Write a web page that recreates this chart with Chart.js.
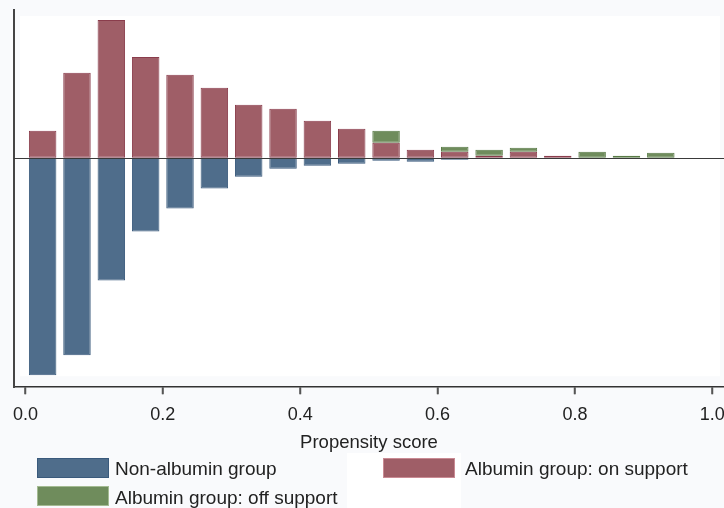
<!DOCTYPE html>
<html>
<head>
<meta charset="utf-8">
<script src="https://cdn.jsdelivr.net/npm/chart.js@4/dist/chart.umd.min.js"></script>
<style>
  html, body { margin: 0; padding: 0; background: #f9fafc; }
  #wrap { position: relative; width: 724px; height: 508px; overflow: hidden; font-family: "Liberation Sans", Arial, sans-serif; }
  #myChart { position: absolute; left: 0; top: 0; }
  .patch { position: absolute; left: 347px; top: 453px; width: 114px; height: 55px; background: #fff; }
  .item { position: absolute; font-size: 19px; color: #222; white-space: nowrap; line-height: 20px; }
  .box { position: absolute; width: 70px; height: 18px; border: 1px solid; }
</style>
</head>
<body>
<div id="wrap">
  <canvas id="myChart" width="724" height="508"></canvas>
  <div class="patch"></div>
  <div class="box" style="left:37px;top:458px;background:#4f6d8b;border-color:#3a5a7c"></div>
  <div class="item" style="left:115px;top:459px">Non-albumin group</div>
  <div class="box" style="left:383px;top:458px;background:#9f5e67;border-color:#c98a93"></div>
  <div class="item" style="left:465px;top:459px">Albumin group: on support</div>
  <div class="box" style="left:37px;top:486px;background:#6f8c5c;border-color:#a4bb92"></div>
  <div class="item" style="left:115px;top:488px">Albumin group: off support</div>
</div>
<script>
// propensity score bins (centres, width 0.05)
const binCentres = [0.025, 0.075, 0.125, 0.175, 0.225, 0.275, 0.325, 0.375, 0.425, 0.475,
                    0.525, 0.575, 0.625, 0.675, 0.725, 0.775, 0.825, 0.875, 0.925];
// densities (arbitrary units), non-albumin drawn downwards
const nonAlbumin = [-21.8, -19.8, -12.3, -7.4, -5.1, -3.1, -1.9, -1.1, -0.8, -0.6,
                    -0.3, -0.4, -0.2, 0, 0, 0, 0, 0, 0];
const onSupport  = [2.7, 8.5, 13.8, 10.1, 8.3, 7.0, 5.3, 4.9, 3.7, 2.9,
                    1.5, 0.8, 0.6, 0.2, 0.6, 0.2, 0, 0, 0];
const offSupport = [0, 0, 0, 0, 0, 0, 0, 0, 0, 0,
                    1.2, 0, 0.5, 0.6, 0.4, 0, 0.6, 0.2, 0.5];
const xTicks = [0, 0.2, 0.4, 0.6, 0.8, 1.0];

function toPoints(vals) {
    return binCentres.map((x, i) => ({x: x, y: vals[i]}));
}

// white plot panel, zero line, x tick marks
const panelPlugin = {
    id: 'panel',
    beforeDraw(chart) {
        const {ctx, chartArea: a} = chart;
        ctx.save();
        ctx.fillStyle = '#ffffff';
        ctx.fillRect(a.left + 6, a.top + 6, a.right - a.left - 10, a.bottom - a.top - 17);
        ctx.restore();
    },
    afterDatasetsDraw(chart) {
        const {ctx, chartArea: a, scales} = chart;
        const y0 = Math.round(scales.y.getPixelForValue(0)) + 0.5;
        ctx.save();
        ctx.strokeStyle = '#3a3a3a';
        ctx.lineWidth = 1;
        ctx.beginPath();
        ctx.moveTo(a.left, y0);
        ctx.lineTo(a.right, y0);
        ctx.stroke();
        ctx.strokeStyle = '#555';
        ctx.lineWidth = 1.5;
        ctx.beginPath();
        for (const v of xTicks) {
            const px = Math.round(scales.x.getPixelForValue(v));
            ctx.moveTo(px, a.bottom);
            ctx.lineTo(px, a.bottom + 7);
        }
        ctx.stroke();
        ctx.restore();
    }
};

let data = {
    datasets: [{
        label: 'Non-albumin group',
        backgroundColor: '#4f6d8b',
        borderColor: '#3a5a7c',
        data: toPoints(nonAlbumin),
    }, {
        label: 'Albumin group: on support',
        backgroundColor: '#9f5e67',
        borderColor: '#8a3d4c',
        data: toPoints(onSupport),
    }, {
        label: 'Albumin group: off support',
        backgroundColor: '#6f8c5c',
        borderColor: '#587a45',
        data: toPoints(offSupport),
    }]
};

let config = {
    type: 'bar',
    data: data,
    options: {
        responsive: false,
        animation: false,
        borderSkipped: false,
        layout: { padding: { left: 14, right: 0, top: 10, bottom: 54 } },
        datasets: {
            bar: { borderWidth: 1, barPercentage: 0.8, categoryPercentage: 1.0 }
        },
        plugins: { legend: { display: false }, tooltip: { enabled: false } },
        scales: {
            x: {
                type: 'linear',
                stacked: true,
                offset: false,
                min: -0.0167,
                max: 1.017,
                afterBuildTicks: s => { s.ticks = xTicks.map(v => ({value: v})); },
                afterFit: s => { s.paddingLeft = 0; s.paddingRight = 0; },
                grid: { offset: false, drawOnChartArea: false, drawTicks: true, tickLength: 7, tickColor: '#555', tickWidth: 1.5 },
                border: { display: true, color: '#333', width: 1.5 },
                ticks: {
                    color: '#222', padding: 10, maxRotation: 0,
                    font: { family: '"Liberation Sans", Arial', size: 18 },
                    callback: v => v.toFixed(1)
                },
                title: {
                    display: true, text: 'Propensity score', color: '#222',
                    font: { family: '"Liberation Sans", Arial', size: 18.5 },
                    padding: { top: -4, bottom: 0 }
                }
            },
            y: {
                stacked: true,
                min: -23,
                max: 14.8,
                grid: { display: false, drawTicks: false },
                border: { display: true, color: '#444', width: 2 },
                ticks: { display: false },
                afterFit: s => { s.width = 0; }
            }
        }
    },
    plugins: [panelPlugin]
};

let myChart = new Chart(document.getElementById('myChart'), config);
</script>
</body>
</html>
